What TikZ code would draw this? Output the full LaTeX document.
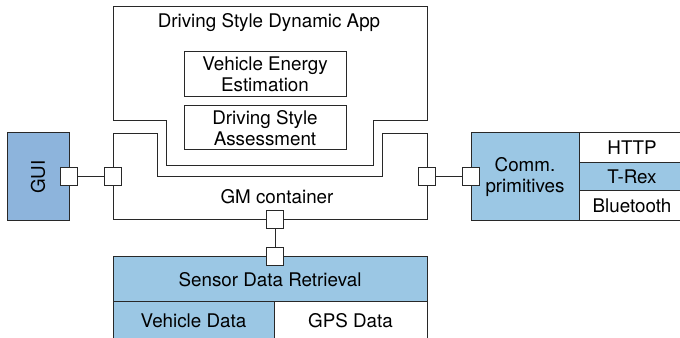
\documentclass[tikz,border=0pt]{standalone}
\usepackage{fontspec}
\setmainfont{TeX Gyre Heros}
\usetikzlibrary{arrows,shapes}
\definecolor{guiblue}{RGB}{141,180,220}
\definecolor{compblue}{RGB}{155,199,228}
\definecolor{edge}{RGB}{40,40,40}

\begin{document}
\begin{tikzpicture}[line width=1bp]
      \tikzstyle{every node}=[font=\fontsize{18.8bp}{20.5bp}\selectfont]
      \tikzstyle{comp}=[draw=edge,fill=white,inner sep=0pt,align=center]
      \tikzstyle{bluecomp}=[comp,fill=compblue]
      \tikzstyle{port}=[draw=edge,fill=white,inner sep=0pt,minimum width=17bp,minimum height=18bp]
      \useasboundingbox (0bp,0bp) rectangle (680bp,338bp);
      %%
  \draw [edge] (113bp,331bp) -- (427bp,331bp) -- (427bp,217bp) -- (373bp,217bp) -- (373bp,172bp)
     -- (166bp,172bp) -- (166bp,217bp) -- (113bp,217bp) -- cycle;
  \draw [edge] (113bp,204bp) -- (157bp,204bp) -- (157bp,161bp) -- (382bp,161bp) -- (382bp,204bp)
     -- (427bp,204bp) -- (427bp,118bp) -- (113bp,118bp) -- cycle;
  \node (app) at (269bp,315bp) [draw,draw=none] {Driving Style Dynamic App};
  \node (gm) at (277bp,141bp) [draw,draw=none] {GM container};
  \node (vee) at (265bp,263.5bp) [comp,minimum width=162bp,minimum height=45bp] {Vehicle Energy\\Estimation};
  \node (dsa) at (265bp,210bp) [comp,minimum width=162bp,minimum height=44bp] {Driving Style\\Assessment};
  \node (gui) at (38bp,161bp) [comp,fill=guiblue,minimum width=62bp,minimum height=88bp] {\rotatebox{90}{GUI}};
  \node (comm) at (525bp,161bp) [bluecomp,minimum width=108bp,minimum height=88bp] {Comm.\\primitives};
  \node (http) at (632bp,190bp) [comp,minimum width=106bp,minimum height=30bp] {HTTP};
  \node (trex) at (632bp,161bp) [bluecomp,minimum width=106bp,minimum height=28bp] {T-Rex};
  \node (bt) at (632bp,132bp) [comp,minimum width=106bp,minimum height=30bp] {Bluetooth};
  \node (sdr) at (270bp,58.5bp) [bluecomp,minimum width=314bp,minimum height=45bp] {Sensor Data Retrieval};
  \node (vdata) at (193.5bp,17bp) [bluecomp,minimum width=161bp,minimum height=38bp] {Vehicle Data};
  \node (gps) at (350.5bp,17bp) [comp,minimum width=153bp,minimum height=38bp] {GPS Data};
  \node (p_gui) at (68.5bp,161bp) [port] {};
  \node (p_gml) at (113bp,161bp) [port] {};
  \node (p_gmr) at (427bp,161bp) [port] {};
  \node (p_comm) at (471bp,161bp) [port] {};
  \node (p_gmb) at (275bp,118bp) [port] {};
  \node (p_sdr) at (275bp,81bp) [port] {};
  \draw [edge] (p_gui) -- (p_gml);
  \draw [edge] (p_gmr) -- (p_comm);
  \draw [edge] (p_gmb) -- (p_sdr);
%
\end{tikzpicture}
\end{document}
